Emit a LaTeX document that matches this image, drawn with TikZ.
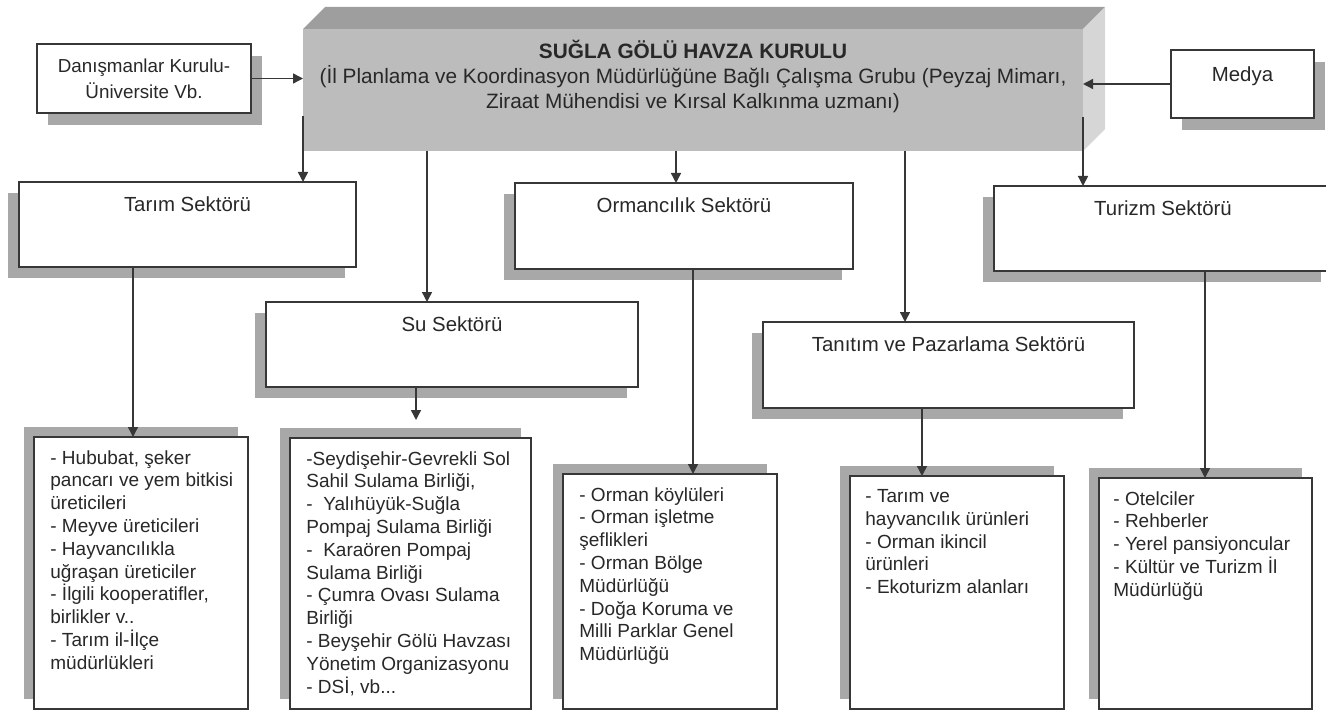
\documentclass[tikz,border=0pt]{standalone}
\usepackage{fontspec}
\setmainfont{Liberation Sans}
\usetikzlibrary{positioning, arrows.meta, shadows, calc}

\definecolor{golge}{RGB}{168,168,168}
\definecolor{onyuz}{RGB}{188,188,188}
\definecolor{ustyuz}{RGB}{158,158,158}
\definecolor{yanyuz}{RGB}{214,214,214}
\definecolor{cizgi}{RGB}{55,55,55}
\definecolor{yazi}{RGB}{40,40,40}

\begin{document}
\begin{tikzpicture}[
    x=0.5pt, y=-0.5pt,
    kutu/.style={rectangle, draw=cizgi, line width=0.8pt, fill=white, inner sep=0pt, outer sep=0pt, anchor=north west, text=yazi},
    yan/.style={kutu, drop shadow={shadow xshift=5.5pt, shadow yshift=-6pt, fill=golge, opacity=1}},
    sektor/.style={kutu, minimum height=42.5pt, drop shadow={shadow xshift=-5.5pt, shadow yshift=-5.5pt, fill=golge, opacity=1}},
    liste/.style={kutu, minimum width=107pt, drop shadow={shadow xshift=-5pt, shadow yshift=5pt, fill=golge, opacity=1}},
    anakutu/.style={rectangle, fill=onyuz, inner sep=0pt, outer sep=0pt, anchor=north west, minimum width=390pt, minimum height=61pt},
    baslik/.style={inner sep=0pt, text=yazi, font=\fontsize{10.2}{12.5}\selectfont},
    madde/.style={inner sep=0pt, align=left, text=yazi, font=\fontsize{9.5}{11.4}\selectfont},
    arrow/.style={-{Triangle[width=5pt, length=5pt]}, draw=cizgi, line width=0.7pt}
]

\useasboundingbox (0,0) rectangle (1326,711);
\clip (0,0) rectangle (1326,711);

% Havza kurulu (3D box)
\node[anakutu] (main) at (303,29) {};
\fill[ustyuz] (main.north west) -- ++(22,-22) -- ([shift={(22,-22)}]main.north east) -- (main.north east) -- cycle;
\fill[yanyuz] (main.north east) -- ++(22,-22) -- ++(0,122) -- (main.south east) -- cycle;
\node[inner sep=0pt, align=center, text=yazi, font=\fontsize{10.4}{12.5}\selectfont, below=5.5pt of main.north] (anayazi)
    {\textbf{SUĞLA GÖLÜ HAVZA KURULU}\\(İl Planlama ve Koordinasyon Müdürlüğüne Bağlı Çalışma Grubu (Peyzaj Mimarı,\\Ziraat Mühendisi ve Kırsal Kalkınma uzmanı)};

% Side boxes
\node[yan, minimum width=107pt, minimum height=34.5pt, align=center, font=\fontsize{9.4}{13}\selectfont] (danis) at (37,44) {Danışmanlar Kurulu-\\Üniversite Vb.};
\node[yan, minimum width=71.5pt, minimum height=34pt] (medya) at (1171,50) {};
\node[baslik, below=8pt of medya.north] (medyayazi) {Medya};

% Sectors
\node[sektor, minimum width=168.5pt] (tarim) at (19,182) {};
\node[baslik, below=7pt of tarim.north] (tarimyazi) {Tarım Sektörü};
\node[sektor, minimum width=186pt] (su) at (266,302) {};
\node[baslik, below=7pt of su.north] (suyazi) {Su Sektörü};
\node[sektor, minimum width=169pt, minimum height=43pt] (orman) at (515,183) {};
\node[baslik, below=7pt of orman.north] (ormanyazi) {Ormancılık Sektörü};
\node[sektor, minimum width=185.5pt, minimum height=43pt] (tanitim) at (763,322) {};
\node[baslik, below=7pt of tanitim.north] (tanitimyazi) {Tanıtım ve Pazarlama Sektörü};
\node[sektor, minimum width=169pt] (turizm) at (994,186) {};
\node[baslik, below=7pt of turizm.north] (turizmyazi) {Turizm Sektörü};

% Lists
\node[liste, minimum height=136pt] (tarimlist) at (34,437) {};
\node[madde, below right=6.5pt and 8pt of tarimlist.north west] (tarimmadde)
    {- Hububat, şeker\\pancarı ve yem bitkisi\\üreticileri\\- Meyve üreticileri\\- Hayvancılıkla\\uğraşan üreticiler\\- İlgili kooperatifler,\\birlikler v..\\- Tarım il-İlçe\\müdürlükleri};
\node[liste, minimum width=120.5pt, minimum height=135.5pt] (sulist) at (290,438) {};
\node[madde, below right=6.5pt and 8pt of sulist.north west] (sumadde)
    {-Seydişehir-Gevrekli Sol\\Sahil Sulama Birliği,\\-~ Yalıhüyük-Suğla\\Pompaj Sulama Birliği\\-~ Karaören Pompaj\\Sulama Birliği\\- Çumra Ovası Sulama\\Birliği\\- Beyşehir Gölü Havzası\\Yönetim Organizasyonu\\- DSİ, vb...};
\node[liste, minimum height=117.5pt] (ormanlist) at (563,474) {};
\node[madde, below right=6.5pt and 8pt of ormanlist.north west] (ormanmadde)
    {- Orman köylüleri\\- Orman işletme\\şeflikleri\\- Orman Bölge\\Müdürlüğü\\- Doğa Koruma ve\\Milli Parklar Genel\\Müdürlüğü};
\node[liste, minimum height=116.5pt] (tanitimlist) at (850,476) {};
\node[madde, below right=6.5pt and 7.5pt of tanitimlist.north west] (tanitimmadde)
    {- Tarım ve\\hayvancılık ürünleri\\- Orman ikincil\\ürünleri\\- Ekoturizm alanları};
\node[liste, minimum width=106.5pt, minimum height=115.5pt] (turizmlist) at (1099,478) {};
\node[madde, below right=6.5pt and 7pt of turizmlist.north west] (turizmmadde)
    {- Otelciler\\- Rehberler\\- Yerel pansiyoncular\\- Kültür ve Turizm İl\\Müdürlüğü};

% Arrows into the board
\draw[arrow] (danis.east) -- (danis.east -| main.west);
\draw[arrow] (medya.west) -- (medya.west -| main.east);

% Board to sectors
\draw[arrow] ([yshift=17.5pt]main.south west) -- (main.south west |- tarim.north);
\draw[arrow] (427,0 |- main.south) -- (427,0 |- su.north);
\draw[arrow] (676,0 |- main.south) -- (676,0 |- orman.north);
\draw[arrow] (905,0 |- main.south) -- (905,0 |- tanitim.north);
\draw[arrow] ([yshift=17pt]main.south east) -- (main.south east |- turizm.north);

% Sectors to lists
\draw[arrow] (133,0 |- tarim.south) -- (133,0 |- tarimlist.north);
\draw[arrow] (416,0 |- su.south) -- ($(416,0 |- sulist.north)+(0,-18)$);
\draw[arrow] (693,0 |- orman.south) -- (693,0 |- ormanlist.north);
\draw[arrow] (922,0 |- tanitim.south) -- (922,0 |- tanitimlist.north);
\draw[arrow] (1205,0 |- turizm.south) -- (1205,0 |- turizmlist.north);

\end{tikzpicture}
\end{document}
